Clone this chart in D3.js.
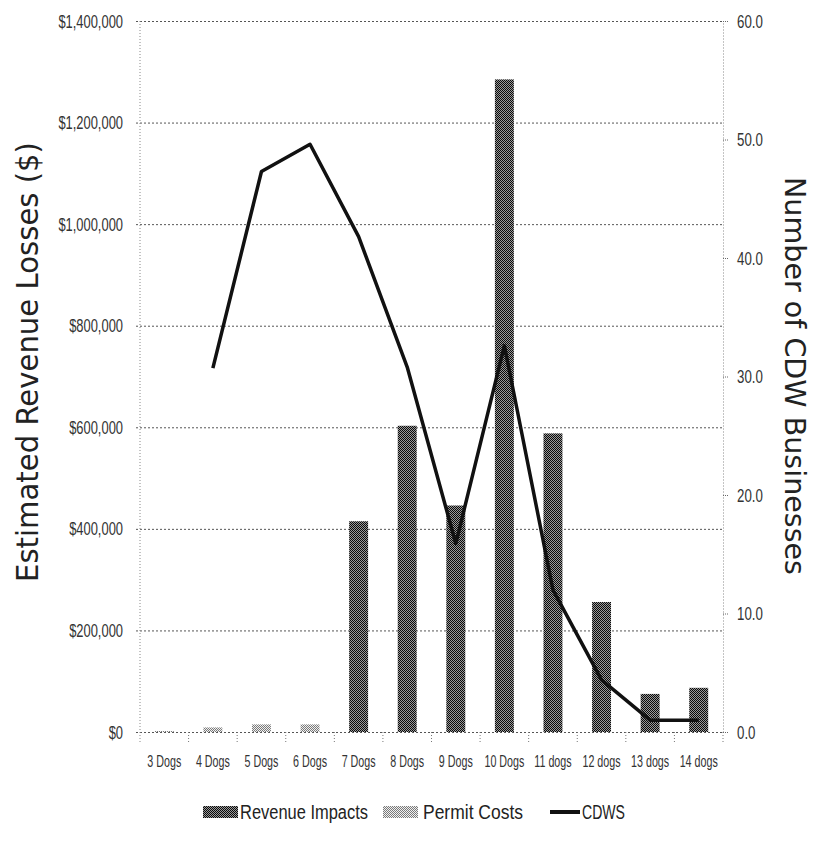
<!DOCTYPE html>
<html><head><meta charset="utf-8">
<script src="https://cdn.jsdelivr.net/npm/d3@7"></script>
<style>body{margin:0;background:#fff}svg{display:block}</style>
</head><body>
<svg id="c" width="815" height="844"></svg>
<script>
const categories = ["3 Dogs","4 Dogs","5 Dogs","6 Dogs","7 Dogs","8 Dogs","9 Dogs","10 Dogs","11 dogs","12 dogs","13 dogs","14 dogs"];
const revenueImpacts = [0, 0, 0, 0, 415000, 603000, 446000, 1285000, 588000, 256000, 75000, 87000];
const permitCosts = [2000, 9000, 15000, 15000, null, null, null, null, null, null, null, null];
const cdws = [null, 30.7, 47.3, 49.6, 41.8, 30.8, 15.9, 32.6, 12.0, 4.4, 1.0, 1.0];
const leftTicks = [0, 200000, 400000, 600000, 800000, 1000000, 1200000, 1400000];
const rightTicks = [0, 10, 20, 30, 40, 50, 60];
const seriesNames = ["Revenue Impacts", "Permit Costs", "CDWS"];
const leftTitle = "Estimated Revenue Losses ($)";
const rightTitle = "Number of CDW Businesses";

const svg = d3.select("#c");
const L = 140, R = 723, T = 21, B = 732;
const FONT = "'Liberation Sans', Arial, sans-serif";
const x = d3.scaleBand().domain(categories).range([L, R]).padding(0);
const yL = d3.scaleLinear().domain([0, 1400000]).range([B, T]);
const yR = d3.scaleLinear().domain([0, 60]).range([B, T]);

// patterns
const defs = svg.append("defs");
const pRev = defs.append("pattern").attr("id","pRev").attr("width",2).attr("height",2).attr("patternUnits","userSpaceOnUse");
pRev.append("rect").attr("width",2).attr("height",2).attr("fill","#9a9a9a");
pRev.append("rect").attr("x",0).attr("y",0).attr("width",1).attr("height",1).attr("fill","#0a0a0a");
pRev.append("rect").attr("x",1).attr("y",1).attr("width",1).attr("height",1).attr("fill","#0a0a0a");
const pPer = defs.append("pattern").attr("id","pPer").attr("width",2).attr("height",2).attr("patternUnits","userSpaceOnUse");
pPer.append("rect").attr("width",2).attr("height",2).attr("fill","#f0f0f0");
pPer.append("rect").attr("x",0).attr("y",0).attr("width",1).attr("height",1).attr("fill","#7a7a7a");
pPer.append("rect").attr("x",1).attr("y",1).attr("width",1).attr("height",1).attr("fill","#7a7a7a");

// gridlines + left labels
const gl = svg.append("g").attr("transform",`translate(136,0)`)
  .call(d3.axisLeft(yL).tickValues(leftTicks).tickFormat(d3.format("$,")).tickSize(-(R-136)).tickPadding(13));
gl.select(".domain").remove();
gl.selectAll(".tick line").attr("stroke","#555").attr("stroke-dasharray","2,2");
const sxL = 0.68;
gl.selectAll(".tick text").attr("font-family",FONT).attr("font-size",19).attr("fill","#333")
  .attr("x", -13/sxL).attr("transform",`scale(${sxL},1)`);

// vertical axis line
svg.append("line").attr("x1",L).attr("x2",L).attr("y1",T).attr("y2",B+10).attr("stroke","#888").attr("stroke-dasharray","1,2");

// x-axis boundary ticks
const bounds = categories.map(c => x(c)).concat([x(categories[categories.length-1]) + x.bandwidth()]);
svg.append("g").selectAll("line").data(bounds.slice(1)).join("line")
  .attr("x1", d => d).attr("x2", d => d).attr("y1", B).attr("y2", B+10)
  .attr("stroke","#777").attr("stroke-dasharray","1,2");

// bars
const bw = x.bandwidth()*0.39;
svg.append("g").selectAll("rect").data(categories.map((c,i)=>({c, v: permitCosts[i]})).filter(d=>d.v!=null && d.v>0)).join("rect")
  .attr("x", d => x(d.c) + x.bandwidth()/2 - bw/2).attr("width", bw)
  .attr("y", d => yL(d.v)).attr("height", d => B - yL(d.v)).attr("fill","url(#pPer)");
svg.append("g").selectAll("rect").data(categories.map((c,i)=>({c, v: revenueImpacts[i]})).filter(d=>d.v>0)).join("rect")
  .attr("x", d => x(d.c) + x.bandwidth()/2 - bw/2).attr("width", bw)
  .attr("y", d => yL(d.v)).attr("height", d => B - yL(d.v)).attr("fill","url(#pRev)");

// line
const pts = categories.map((c,i)=>({c, v: cdws[i]}));
const line = d3.line().defined(d => d.v != null).x(d => x(d.c) + x.bandwidth()/2).y(d => yR(d.v));
svg.append("path").datum(pts).attr("d", line).attr("fill","none").attr("stroke","#111").attr("stroke-width",3.5).attr("stroke-linejoin","round");

// right axis
const gr = svg.append("g").attr("transform",`translate(${R},0)`)
  .call(d3.axisRight(yR).tickValues(rightTicks).tickFormat(d3.format(".1f")).tickSize(5).tickSizeOuter(0).tickPadding(9));
gr.select(".domain").attr("stroke","#888").attr("stroke-dasharray","1,2");
gr.selectAll(".tick line").attr("stroke","#666").attr("stroke-dasharray","1,1");
const sxR = 0.7;
gr.selectAll(".tick text").attr("font-family",FONT).attr("font-size",19).attr("fill","#333")
  .attr("x", 14/sxR).attr("transform",`scale(${sxR},1)`);

// bottom labels
const gb = svg.append("g").attr("transform",`translate(0,${B})`)
  .call(d3.axisBottom(x).tickSize(0).tickPadding(23));
gb.select(".domain").remove();
const sxB = 0.63;
gb.selectAll(".tick text").attr("font-family",FONT).attr("font-size",17).attr("fill","#333")
  .attr("transform",`scale(${sxB},1)`);

// axis titles
svg.append("text").attr("transform","translate(38,362) rotate(-90)").attr("text-anchor","middle")
  .attr("font-family","'DejaVu Sans', Verdana, sans-serif").attr("font-size",31).attr("fill","#222")
  .attr("textLength",440).attr("lengthAdjust","spacingAndGlyphs").text(leftTitle);
svg.append("text").attr("transform","translate(785,376) rotate(90)").attr("text-anchor","middle")
  .attr("font-family","'DejaVu Sans', Verdana, sans-serif").attr("font-size",29).attr("fill","#222")
  .attr("textLength",398).attr("lengthAdjust","spacingAndGlyphs").text(rightTitle);

// legend
const LY = 812;
const lg = svg.append("g");
lg.append("rect").attr("x",203).attr("y",LY-6).attr("width",35).attr("height",12).attr("fill","url(#pRev)");
lg.append("text").attr("x",240).attr("y",LY+7).attr("font-family",FONT).attr("font-size",20).attr("fill","#222")
  .attr("textLength",128).attr("lengthAdjust","spacingAndGlyphs").text(seriesNames[0]);
lg.append("rect").attr("x",383).attr("y",LY-6).attr("width",35).attr("height",12).attr("fill","url(#pPer)");
lg.append("text").attr("x",423).attr("y",LY+7).attr("font-family",FONT).attr("font-size",20).attr("fill","#222")
  .attr("textLength",100).attr("lengthAdjust","spacingAndGlyphs").text(seriesNames[1]);
lg.append("line").attr("x1",550).attr("x2",580).attr("y1",LY).attr("y2",LY).attr("stroke","#111").attr("stroke-width",4);
lg.append("text").attr("x",582).attr("y",LY+7).attr("font-family",FONT).attr("font-size",20).attr("fill","#222")
  .attr("textLength",43).attr("lengthAdjust","spacingAndGlyphs").text(seriesNames[2]);
</script>
</body></html>
